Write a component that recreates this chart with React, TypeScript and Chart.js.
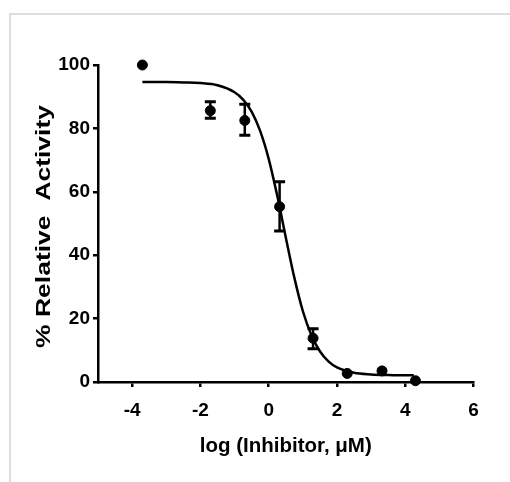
import React, { useEffect, useRef } from "react";
import { Chart, registerables } from "chart.js";

Chart.register(...registerables);

// Measured data points (log concentration, % activity)
const pointX = [-3.7, -1.71, -0.7, 0.32, 1.3, 2.3, 3.32, 4.3];
const pointY = [100, 85.6, 82.5, 55.3, 13.8, 2.7, 3.5, 0.4];
const errLow: (number | null)[] = [null, 83.2, 77.8, 47.6, 10.5, null, null, null];
const errHigh: (number | null)[] = [null, 88.4, 87.6, 63.2, 16.8, null, null, null];

// Fitted curve
const curveX = [-3.7, -3, -2.5, -2, -1.5, -1, -0.75, -0.5, -0.25, 0, 0.25, 0.5, 0.75, 1, 1.25, 1.5, 1.75, 2, 2.5, 3, 3.5, 4, 4.25];
const curveY = [94.6, 94.6, 94.5, 94.3, 93.6, 91.4, 89.1, 85.3, 79.2, 70.4, 58.8, 45.7, 33.0, 22.4, 14.8, 9.7, 6.5, 4.6, 2.9, 2.4, 2.2, 2.1, 2.1];

const xTicks = [-4, -2, 0, 2, 4, 6];
const yTicks = [0, 20, 40, 60, 80, 100];
const xTitle = "log (Inhibitor, μM)";
const yTitle = "% Relative  Activity";

const FONT = "'Liberation Sans', Arial, sans-serif";

const errorBarPlugin = {
  id: "errorBars",
  afterDatasetsDraw(chart: any) {
    const { ctx, scales } = chart;
    const x = scales.x;
    const y = scales.y;
    ctx.save();
    ctx.strokeStyle = "#000";
    pointX.forEach((v, i) => {
      const lo = errLow[i];
      const hi = errHigh[i];
      if (lo == null || hi == null) return;
      const px = x.getPixelForValue(v);
      const pLo = y.getPixelForValue(lo);
      const pHi = y.getPixelForValue(hi);
      ctx.lineWidth = 2.5;
      ctx.beginPath();
      ctx.moveTo(px, pLo);
      ctx.lineTo(px, pHi);
      ctx.stroke();
      ctx.lineWidth = 3;
      ctx.beginPath();
      ctx.moveTo(px - 5.5, pLo);
      ctx.lineTo(px + 5.5, pLo);
      ctx.moveTo(px - 5.5, pHi);
      ctx.lineTo(px + 5.5, pHi);
      ctx.stroke();
    });
    ctx.restore();
  },
};

// Vertical axis title, stretched along its length like the original
const yTitlePlugin = {
  id: "yTitleStretched",
  afterDraw(chart: any) {
    const { ctx, chartArea } = chart;
    const cy = (chartArea.top + chartArea.bottom) / 2 + 3;
    const baselineX = 50;
    const targetLength = 243;
    ctx.save();
    ctx.font = `bold 20px ${FONT}`;
    const w = ctx.measureText(yTitle).width;
    ctx.translate(baselineX, cy);
    ctx.rotate(-Math.PI / 2);
    ctx.scale(targetLength / w, 1);
    ctx.fillStyle = "#000";
    ctx.textAlign = "center";
    ctx.textBaseline = "alphabetic";
    ctx.fillText(yTitle, 0, 0);
    ctx.restore();
  },
};

export default function App() {
  const canvasRef = useRef<HTMLCanvasElement | null>(null);

  useEffect(() => {
    if (!canvasRef.current) return;
    const chart = new Chart(canvasRef.current, {
      type: "scatter",
      data: {
        datasets: [
          {
            type: "line",
            data: curveX.map((v, i) => ({ x: v, y: curveY[i] })),
            borderColor: "#000",
            borderWidth: 2.5,
            pointRadius: 0,
            cubicInterpolationMode: "monotone",
            fill: false,
            clip: false,
          } as any,
          {
            type: "scatter",
            data: pointX.map((v, i) => ({ x: v, y: pointY[i] })),
            backgroundColor: "#000",
            borderColor: "#000",
            borderWidth: 1,
            pointRadius: 5,
            pointStyle: "circle",
            clip: false,
          } as any,
        ],
      },
      options: {
        animation: false,
        responsive: false,
        devicePixelRatio: 1,
        layout: { padding: { left: 0, right: 36.5, top: 65, bottom: 0 } },
        plugins: { legend: { display: false }, tooltip: { enabled: false } },
        scales: {
          x: {
            type: "linear",
            min: -5,
            max: 6,
            afterBuildTicks: (scale: any) => {
              scale.ticks = xTicks.map((v) => ({ value: v }));
            },
            afterFit: (scale: any) => {
              scale.height = 100;
            },
            grid: {
              drawOnChartArea: false,
              drawTicks: true,
              tickLength: 5,
              color: "#000",
              lineWidth: 2.5,
            },
            border: { display: true, color: "#000", width: 2.5 },
            ticks: {
              color: "#000",
              padding: 12,
              font: { family: FONT, size: 19, weight: "bold" },
              maxRotation: 0,
            },
            title: {
              display: true,
              text: xTitle,
              color: "#000",
              font: { family: FONT, size: 20.5, weight: "bold", lineHeight: 1.2 },
              padding: { top: 0, bottom: 23 },
            },
          },
          y: {
            type: "linear",
            min: 0,
            max: 100,
            afterBuildTicks: (scale: any) => {
              scale.ticks = yTicks.map((v) => ({ value: v }));
            },
            afterFit: (scale: any) => {
              scale.width = 98;
            },
            grid: {
              drawOnChartArea: false,
              drawTicks: true,
              tickLength: 5,
              color: "#000",
              lineWidth: 2.5,
            },
            border: { display: true, color: "#000", width: 2.5 },
            ticks: {
              color: "#000",
              padding: 3,
              font: { family: FONT, size: 19, weight: "bold" },
            },
            title: { display: false },
          },
        },
      },
      plugins: [errorBarPlugin, yTitlePlugin],
    } as any);
    return () => chart.destroy();
  }, []);

  return (
    <div
      style={{
        position: "fixed",
        left: 0,
        top: 0,
        width: 510,
        height: 482,
        background: "#fff",
        overflow: "hidden",
      }}
    >
      <div
        style={{
          position: "absolute",
          left: 9,
          top: 13,
          right: 0,
          bottom: 0,
          borderTop: "2px solid #dedede",
          borderLeft: "2px solid #dedede",
        }}
      />
      <canvas
        ref={canvasRef}
        width={510}
        height={482}
        style={{ position: "absolute", left: 0, top: 0, width: 510, height: 482 }}
      />
    </div>
  );
}
